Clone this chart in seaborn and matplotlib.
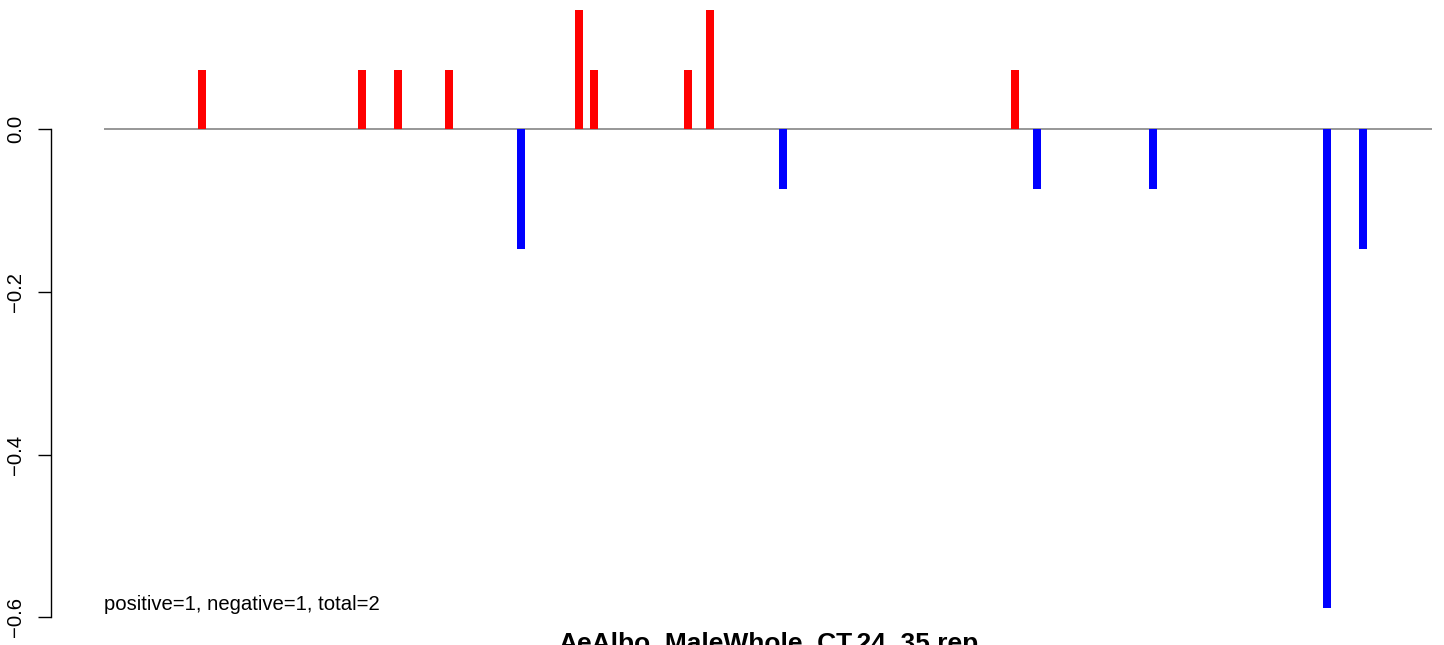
import numpy as np
import pandas as pd
import matplotlib
matplotlib.use("Agg")
import matplotlib.pyplot as plt
import seaborn as sns

# ---- data ----
positions = [14, 36, 41, 48, 58, 66, 68, 81, 84, 94, 126, 129, 145, 169, 174]
values = [0.0735, 0.0735, 0.0735, 0.0735, -0.147, 0.147, 0.0735, 0.0735, 0.147,
          -0.0735, 0.0735, -0.0735, -0.0735, -0.588, -0.147]
n_positions = 183
y_ticks = [0.0, -0.2, -0.4, -0.6]
y_tick_labels = ["0.0", "\u22120.2", "\u22120.4", "\u22120.6"]
title = "AeAlbo_MaleWhole_CT.24_35.rep"
note = "positive=1, negative=1, total=2"

sns.set_style("white")
plt.rcParams["font.family"] = ["Liberation Sans", "DejaVu Sans"]
plt.rcParams["text.color"] = "black"
plt.rcParams["ytick.color"] = "black"
plt.rcParams["ytick.labelcolor"] = "black"

W, H, DPI = 1444, 645, 100
fig = plt.figure(figsize=(W / DPI, H / DPI), dpi=DPI)
ax = fig.add_axes([51 / W, 0, (W - 51) / W, 1])

df = pd.DataFrame({"pos": positions, "val": values})
df["sign"] = np.where(df["val"] > 0, "pos", "neg")

bar_width_units = 1.1
min_gap = np.min(np.diff(np.unique(df["pos"])))
sns.barplot(data=df, x="pos", y="val", hue="sign",
            palette={"pos": "#FF0000", "neg": "#0000FF"},
            native_scale=True, width=bar_width_units / min_gap,
            dodge=False, legend=False, saturation=1, linewidth=0, ax=ax,
            zorder=2)

ax.hlines(0, 0.5, n_positions + 0.5, color="#7a7a7a", lw=1.1, zorder=1)

ax.set_xlim(-6.81, 185.15)
ax.set_ylim(-0.634, 0.159)

for s in ["top", "right", "bottom"]:
    ax.spines[s].set_visible(False)
ax.spines["left"].set_bounds(-0.6, 0.0)
ax.spines["left"].set_color("black")
ax.spines["left"].set_linewidth(1.0)

ax.set_xticks([])
ax.set_yticks(y_ticks)
ax.set_yticklabels(y_tick_labels, rotation=90, va="center", fontsize=14.6,
                   color="black")
ax.tick_params(axis="y", left=True, length=9.5, width=1.0, color="black",
               pad=9)
ax.set_xlabel("")
ax.set_ylabel("")

ax.text(0.5, (129.3 - 610) / 813.3, note, fontsize=14.6, ha="left",
        va="baseline", color="black")

fig.text(768 / W, 1 - 651 / H, title, fontsize=19, fontweight="bold",
         ha="center", va="baseline", color="black")

fig.savefig("out.png", dpi=DPI)
